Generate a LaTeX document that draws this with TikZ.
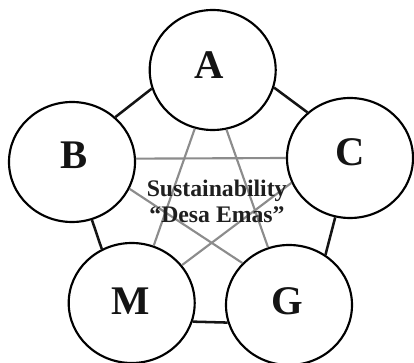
\documentclass[tikz,border=0pt]{standalone}
\usepackage{fontspec}
\setmainfont{Liberation Serif}
\usetikzlibrary{shapes.geometric}
\begin{document}
\begin{tikzpicture}[x=0.75pt,y=-0.75pt,
  ell/.style={draw=black,line width=1.6pt,ellipse,minimum width=94.5pt,minimum height=90pt,inner sep=0pt},
  letter/.style={inner sep=0pt,font=\fontsize{30.5}{34}\selectfont\bfseries,text=black!92},
  midtxt/.style={inner sep=0pt,anchor=base,font=\fontsize{17.8}{20}\selectfont\bfseries,text=black!88},
  pedge/.style={draw=black!92,line width=1.9pt},
  xline/.style={draw=black!45,line width=1.6pt}]
\useasboundingbox (0,0) rectangle (414,363);
\clip (0,0) rectangle (414,363);
\node[ell] (A) at (212.7,70) {};
\node[ell] (B) at (72,162) {};
\node[ell] (C) at (350,158) {};
\node[ell] (M) at (131.7,303) {};
\node[ell] (G) at (289,305) {};
\node[letter] (lA) at (209,65) {A};
\node[letter] (lB) at (74,155) {B};
\node[letter] (lC) at (350,152) {C};
\node[letter] (lM) at (131,301) {M};
\node[letter] (lG) at (287,301) {G};
% outer pentagon edges
\draw[pedge] (A.197.4) -- (B.46.3);
\draw[pedge] (A.344.7) -- (C.133);
\draw[pedge] (C.256) -- (G.54.2);
\draw[pedge] (M.119.3) -- (B.289.3);
\draw[pedge] (M.-17.5) -- (G.196.2);
% inner star
\draw[xline] (B.3.6) -- (C.180);
\draw[xline] (A.253.6) -- (M.69.2);
\draw[xline] (A.283) -- (G.110.8);
\draw[xline] (B.335) -- (G.138.8);
\draw[xline] (C.203.6) -- (M.37.1);
\node[midtxt] (t1) at (216.7,197) {Sustainability};
\node[midtxt] (t2) at (217,222.7) {“Desa Emas”};
\end{tikzpicture}
\end{document}
